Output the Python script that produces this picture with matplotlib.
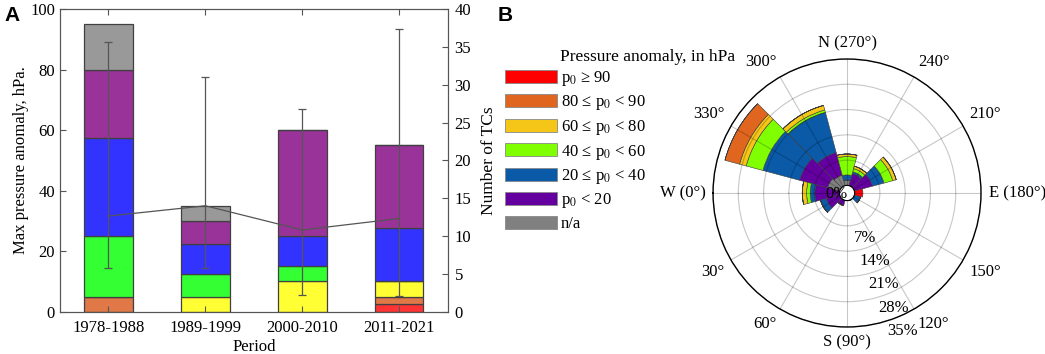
import numpy as np
import matplotlib
matplotlib.use("Agg")
import matplotlib.pyplot as plt
from matplotlib.patches import Patch

plt.rcParams['font.family'] = ['Liberation Serif', 'DejaVu Serif']
plt.rcParams['mathtext.fontset'] = 'stix'

# Panel A: number of TCs per period, by class of pressure anomaly
periods = ["1978-1988", "1989-1999", "2000-2010", "2011-2021"]
cnt_ge90 = [0, 0, 0, 1]
cnt_80_90 = [2, 0, 0, 1]
cnt_60_80 = [0, 2, 4, 2]
cnt_40_60 = [8, 3, 2, 0]
cnt_20_40 = [13, 4, 4, 7]
cnt_lt20 = [9, 3, 14, 11]
cnt_na = [6, 2, 0, 0]

# mean max pressure anomaly with lower / upper limits (hPa)
p_mean = [31.6, 35.0, 27.0, 30.8]
p_low = [14.3, 14.3, 5.5, 5.2]
p_high = [89.0, 77.5, 67.0, 93.3]

# Panel B: share of TCs (%) by direction bin and class, stacked from the centre
directions = [0, 30, 60, 90, 120, 150, 180, 210, 240, 270, 300, 330]
pct_na = [0, 0, 0, 0, 0, 0, 0, 0, 0, 1.5, 3.0, 3.5]
pct_lt20 = [6.8, 3.8, 1.5, 0, 0, 0, 0, 5.2, 3.5, 0, 6.5, 8.0]
pct_20_40 = [1.3, 1.7, 0, 0, 0, 1.8, 0, 3.3, 0.5, 1.4, 11.5, 10.5]
pct_40_60 = [1.0, 0, 0, 0, 0, 0, 0, 2.5, 0.9, 5.1, 0.7, 4.8]
pct_60_80 = [1.2, 0, 0, 0, 0, 0, 0, 1.0, 0.7, 0.7, 1.3, 1.9]
pct_80_90 = [0, 0, 0, 0, 0, 0, 0, 0, 0, 0, 0, 4.2]
pct_ge90 = [0, 0, 0, 0, 0, 0, 2.3, 0, 0, 0, 0, 0]

dir_labels = ["W (0°)", "30°", "60°", "S (90°)", "120°", "150°",
              "E (180°)", "210°", "240°", "N (270°)", "300°", "330°"]
r_ticks = [0, 7, 14, 21, 28, 35]

class_labels = ["p$_0$ ≥ 90", "80 ≤ p$_0$ < 90", "60 ≤ p$_0$ < 80",
                "40 ≤ p$_0$ < 60", "20 ≤ p$_0$ < 40", "p$_0$ < 20", "n/a"]

colors_a = ["#ff3333", "#e07848", "#ffff33", "#33ff33", "#3333ff", "#993399", "#999999"]
colors_b = ["#ff0000", "#e0651e", "#f5c518", "#80ff00", "#0a5aa8", "#6400a0", "#808080"]

fig = plt.figure(figsize=(10.45, 3.54), dpi=100)

# ---------------- Panel A ----------------
ax = fig.add_axes([0.0574, 0.1195, 0.371, 0.855])
ax2 = ax.twinx()
x = np.arange(1, len(periods) + 1)
stack_a = [cnt_ge90, cnt_80_90, cnt_60_80, cnt_40_60, cnt_20_40, cnt_lt20, cnt_na]
bottom = np.zeros(len(periods))
for vals, col in zip(stack_a, colors_a):
    vals = np.array(vals, dtype=float)
    ax2.bar(x, vals, width=0.5, bottom=bottom, color=col,
            edgecolor="#404040", linewidth=0.9)
    bottom += vals
ax2.set_ylim(0, 40)
ax2.set_yticks(np.arange(0, 41, 5))
ax2.set_ylabel("Number of TCs", fontsize=12.5, labelpad=7)

mean = np.array(p_mean)
yerr = [mean - np.array(p_low), np.array(p_high) - mean]
ax.errorbar(x, mean, yerr=yerr, color="#555555", lw=0.9, elinewidth=0.9,
            capsize=3, capthick=0.9)
ax.set_zorder(ax2.get_zorder() + 1)
ax.patch.set_visible(False)
ax.set_xlim(0.5, 4.5)
ax.set_ylim(0, 100)
ax.set_yticks(np.arange(0, 101, 20))
ax.set_xticks(x)
ax.set_xticklabels(periods)
ax.set_xlabel("Period", fontsize=12, labelpad=2)
ax.set_ylabel("Max pressure anomaly, hPa.", fontsize=12, labelpad=1)
ax.tick_params(direction="in", top=True, labelsize=12, length=4, color="#555555")
ax.tick_params(axis="x", pad=6)
ax2.tick_params(direction="in", labelsize=12, length=4, color="#555555", pad=5)
for a in (ax, ax2):
    for s in a.spines.values():
        s.set_color("#555555")

fig.text(0.004, 0.955, "A", fontsize=15, fontweight="bold",
         family="Liberation Sans", va="center")
fig.text(0.476, 0.955, "B", fontsize=15, fontweight="bold",
         family="Liberation Sans", va="center")

# ---------------- Legend ----------------
handles = [Patch(facecolor=c, edgecolor="#888888", linewidth=0.6) for c in colors_b]
fig.legend(handles, class_labels, loc="upper left",
           bbox_to_anchor=(505 / 1045, 1 - 69 / 354), frameon=False,
           fontsize=12, handlelength=3.1, handleheight=0.8,
           handletextpad=0.25, labelspacing=0.33, borderpad=0, borderaxespad=0)
fig.text(560 / 1045, 1 - 57 / 354, "Pressure anomaly, in hPa", fontsize=12.5,
         va="center", ha="left")

# ---------------- Panel B ----------------
pax = fig.add_axes([0.6823, 0.0763, 0.2565, 0.757], projection="polar")
pax.set_theta_zero_location("W")
pax.set_theta_direction(1)
theta = np.deg2rad(directions)
width = np.deg2rad(30)
stack_b = [pct_na, pct_lt20, pct_20_40, pct_40_60, pct_60_80, pct_80_90, pct_ge90]
colors_stack = [colors_b[6], colors_b[5], colors_b[4], colors_b[3],
                colors_b[2], colors_b[1], colors_b[0]]
base = np.zeros(len(directions))
for vals, col in zip(stack_b, colors_stack):
    vals = np.array(vals, dtype=float)
    pax.bar(theta, vals, width=width, bottom=base, color=col,
            edgecolor="#3a3a3a", linewidth=0.4, zorder=1)
    base += vals
pax.set_axisbelow(False)
pax.set_ylim(0, 35)
pax.set_rorigin(-2.1)
pax.set_yticks(r_ticks)
pax.set_yticklabels([])
pax.set_thetagrids(directions, dir_labels, fontsize=12)
pax.grid(color="black", alpha=0.22, linewidth=0.8)
pax.spines["polar"].set_color("black")
pax.spines["polar"].set_linewidth(1.0)
# matplotlib centres theta labels and adds 7 pt; cancel that and align
# each label by its edge facing the circle instead
pax.tick_params(axis="x", pad=-5)
for lbl, d in zip(pax.get_xticklabels(), directions):
    phi = np.deg2rad(180 + d)
    c, s = np.cos(phi), np.sin(phi)
    lbl.set_ha("left" if c > 0.2 else "right" if c < -0.2 else "center")
    lbl.set_va("bottom" if s > 0.2 else "top" if s < -0.2 else "center")

# radial labels sit a little outside their rings, along ~112 deg
for r in r_ticks[1:]:
    pax.text(np.deg2rad(112), r + 4.2, f"{r}%", fontsize=12,
             ha="center", va="center", zorder=5)
pax.text(0.462, 0.497, "0%", transform=pax.transAxes, fontsize=12,
         ha="center", va="center", zorder=5)

fig.savefig("out.png", dpi=100)
